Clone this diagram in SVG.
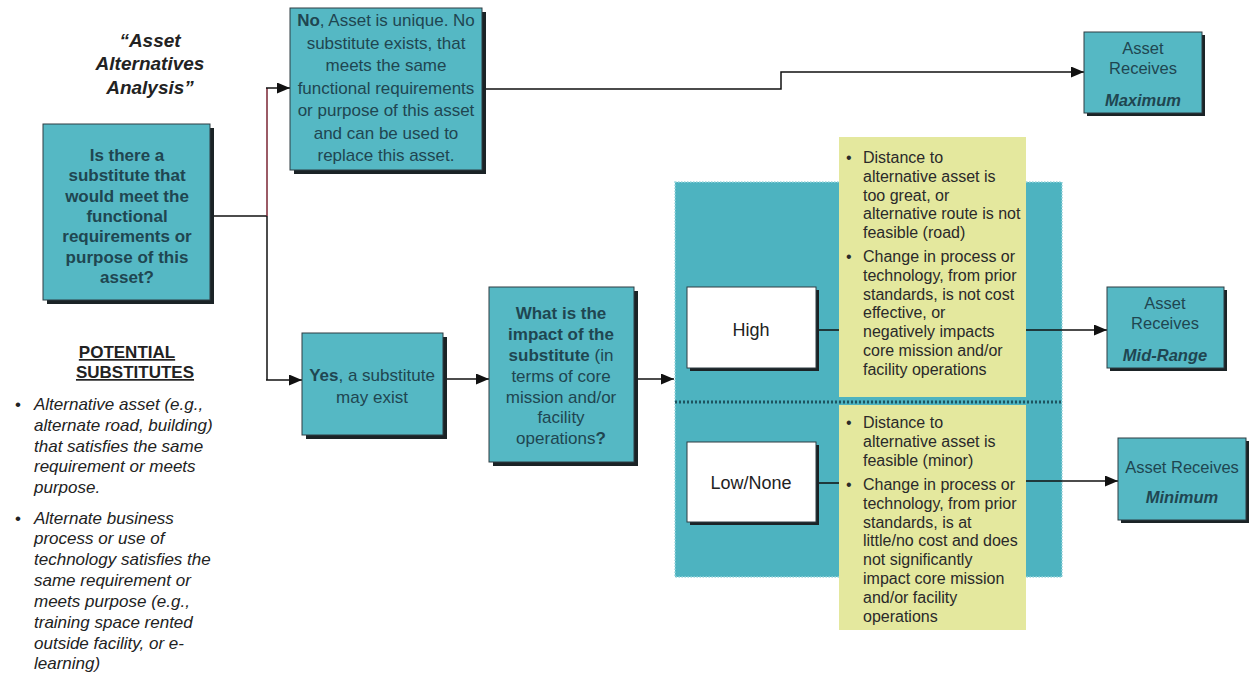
<svg xmlns="http://www.w3.org/2000/svg" width="1252" height="673" viewBox="0 0 1252 673">
<defs>
<marker id="arr" markerUnits="userSpaceOnUse" markerWidth="13" markerHeight="11" refX="13" refY="5.5" orient="auto">
<path d="M0,0 L13,5.5 L0,11 Z" fill="#111"/>
</marker>
<style>
.shadow{fill:#1b2326}
.teal{fill:#55b8c4;stroke:#2e3d42;stroke-width:1}
.white{fill:#ffffff;stroke:#2e3d42;stroke-width:1}
.yellow{fill:#e4e89e}
.tt{font-family:"Liberation Sans",Arial,sans-serif;font-size:17px;fill:#1f4651;text-anchor:middle}
.b{font-weight:bold}
.bi{font-weight:bold;font-style:italic}
.yt{font-family:"Liberation Sans",Arial,sans-serif;font-size:16px;fill:#2a2a2a}
.lt{font-family:"Liberation Sans",Arial,sans-serif;font-size:17px;fill:#222;font-style:italic}
.conn{stroke:#111;stroke-width:1.5;fill:none}
</style>
</defs>
<rect width="1252" height="673" fill="#ffffff"/>

<g id="title">
<text class="tt bi" style="font-size:19px;fill:#222" x="150" y="47">“Asset</text>
<text class="tt bi" style="font-size:19px;fill:#222" x="150" y="70">Alternatives</text>
<text class="tt bi" style="font-size:19px;fill:#222" x="150" y="94">Analysis”</text>
</g>

<g id="panel">
<rect x="675" y="182" width="387" height="395" fill="#4db3c0" stroke="#9ad6dd" stroke-width="1.5" stroke-dasharray="1.5,1.5"/>
<line x1="675" y1="402" x2="1062" y2="402" stroke="#1d5460" stroke-width="3" stroke-dasharray="2,2"/>
</g>

<g id="connectors">
<line class="conn" x1="212" y1="216" x2="267" y2="216"/>
<line x1="267" y1="88" x2="267" y2="216" stroke="#7a2433" stroke-width="1.5"/>
<line class="conn" x1="267" y1="216" x2="267" y2="380"/>
<line class="conn" x1="266" y1="88" x2="290" y2="88" marker-end="url(#arr)"/>
<line class="conn" x1="266" y1="380" x2="302" y2="380" marker-end="url(#arr)"/>
<polyline class="conn" points="484,89 781,89 781,72 1084,72" marker-end="url(#arr)"/>
<line class="conn" x1="447" y1="379" x2="489" y2="379" marker-end="url(#arr)"/>
<line class="conn" x1="637" y1="379" x2="674" y2="379" marker-end="url(#arr)"/>
<line class="conn" x1="816" y1="330" x2="839" y2="330"/>
<line class="conn" x1="1026" y1="330" x2="1107" y2="330" marker-end="url(#arr)"/>
<line class="conn" x1="816" y1="483" x2="839" y2="483"/>
<line class="conn" x1="1026" y1="481" x2="1118" y2="481" marker-end="url(#arr)"/>
</g>

<g id="question">
<rect class="shadow" x="47" y="128" width="167" height="176"/>
<rect class="teal" x="43" y="124" width="167" height="176"/>
<text class="tt b" x="127" y="161">Is there a</text>
<text class="tt b" x="127" y="181.3">substitute that</text>
<text class="tt b" x="127" y="201.7">would meet the</text>
<text class="tt b" x="127" y="222">functional</text>
<text class="tt b" x="127" y="242.3">requirements or</text>
<text class="tt b" x="127" y="262.7">purpose of this</text>
<text class="tt b" x="127" y="283">asset?</text>
</g>

<g id="no-box">
<rect class="shadow" x="294" y="12" width="192" height="162"/>
<rect class="teal" x="290" y="8" width="192" height="162"/>
<text class="tt" x="386" y="26"><tspan class="b">No</tspan>, Asset is unique. No</text>
<text class="tt" x="386" y="48.5">substitute exists, that</text>
<text class="tt" x="386" y="71">meets the same</text>
<text class="tt" x="386" y="93.5">functional requirements</text>
<text class="tt" x="386" y="116">or purpose of this asset</text>
<text class="tt" x="386" y="138.5">and can be used to</text>
<text class="tt" x="386" y="161">replace this asset.</text>
</g>

<g id="yes-box">
<rect class="shadow" x="306" y="337" width="141" height="102"/>
<rect class="teal" x="302" y="333" width="141" height="102"/>
<text class="tt" x="372" y="381"><tspan class="b">Yes</tspan>, a substitute</text>
<text class="tt" x="372" y="403">may exist</text>
</g>

<g id="impact-box">
<rect class="shadow" x="493" y="291" width="145" height="175"/>
<rect class="teal" x="489" y="287" width="145" height="175"/>
<text class="tt b" x="561" y="319">What is the</text>
<text class="tt b" x="561" y="340">impact of the</text>
<text class="tt" x="561" y="361"><tspan class="b">substitute</tspan> (in</text>
<text class="tt" x="561" y="382">terms of core</text>
<text class="tt" x="561" y="403">mission and/or</text>
<text class="tt" x="561" y="423">facility</text>
<text class="tt" x="561" y="444">operations<tspan class="b">?</tspan></text>
</g>

<g id="high-box">
<rect class="shadow" x="690" y="290" width="129" height="81"/>
<rect class="white" x="687" y="287" width="129" height="81"/>
<text class="tt" style="font-size:18px;fill:#222" x="751" y="336">High</text>
</g>

<g id="low-box">
<rect class="shadow" x="690" y="445" width="129" height="80"/>
<rect class="white" x="687" y="442" width="129" height="80"/>
<text class="tt" style="font-size:18px;fill:#222" x="751" y="489">Low/None</text>
</g>

<g id="high-criteria">
<rect class="yellow" x="839" y="137" width="187" height="260"/>
<text class="yt" x="846" y="163">•</text>
<text class="yt" x="863" y="163">Distance to</text>
<text class="yt" x="863" y="181.8">alternative asset is</text>
<text class="yt" x="863" y="200.6">too great, or</text>
<text class="yt" x="863" y="219.4">alternative route is not</text>
<text class="yt" x="863" y="238.2">feasible (road)</text>
<text class="yt" x="846" y="262">•</text>
<text class="yt" x="863" y="262">Change in process or</text>
<text class="yt" x="863" y="280.8">technology, from prior</text>
<text class="yt" x="863" y="299.6">standards, is not cost</text>
<text class="yt" x="863" y="318.4">effective, or</text>
<text class="yt" x="863" y="337.2">negatively impacts</text>
<text class="yt" x="863" y="356">core mission and/or</text>
<text class="yt" x="863" y="374.8">facility operations</text>
</g>

<g id="low-criteria">
<rect class="yellow" x="839" y="405" width="187" height="225"/>
<text class="yt" x="846" y="428">•</text>
<text class="yt" x="863" y="428">Distance to</text>
<text class="yt" x="863" y="446.8">alternative asset is</text>
<text class="yt" x="863" y="465.6">feasible (minor)</text>
<text class="yt" x="846" y="490">•</text>
<text class="yt" x="863" y="490">Change in process or</text>
<text class="yt" x="863" y="508.8">technology, from prior</text>
<text class="yt" x="863" y="527.6">standards, is at</text>
<text class="yt" x="863" y="546.4">little/no cost and does</text>
<text class="yt" x="863" y="565.2">not significantly</text>
<text class="yt" x="863" y="584">impact core mission</text>
<text class="yt" x="863" y="602.8">and/or facility</text>
<text class="yt" x="863" y="621.6">operations</text>
</g>

<g id="maximum-box">
<rect class="shadow" x="1087" y="35" width="118" height="81"/>
<rect class="teal" x="1084" y="32" width="118" height="81"/>
<text class="tt" style="font-size:16.5px" x="1143" y="54">Asset</text>
<text class="tt" style="font-size:16.5px" x="1143" y="74">Receives</text>
<text class="tt bi" style="font-size:16.5px" x="1143" y="106">Maximum</text>
</g>

<g id="midrange-box">
<rect class="shadow" x="1110" y="290" width="117" height="81"/>
<rect class="teal" x="1107" y="287" width="117" height="81"/>
<text class="tt" style="font-size:16.5px" x="1165" y="309">Asset</text>
<text class="tt" style="font-size:16.5px" x="1165" y="329">Receives</text>
<text class="tt bi" style="font-size:16.5px" x="1165" y="361">Mid-Range</text>
</g>

<g id="minimum-box">
<rect class="shadow" x="1121" y="441" width="128" height="82"/>
<rect class="teal" x="1118" y="438" width="128" height="82"/>
<text class="tt" style="font-size:16.5px" x="1182" y="473">Asset Receives</text>
<text class="tt bi" style="font-size:16.5px" x="1182" y="503">Minimum</text>
</g>

<g id="potential-substitutes">
<text class="tt b" style="fill:#222;text-decoration:underline" x="127" y="358">POTENTIAL</text>
<text class="tt b" style="fill:#222;text-decoration:underline" x="135" y="378">SUBSTITUTES</text>
<text class="lt" style="font-style:normal" x="15" y="410">•</text>
<text class="lt" x="34" y="410">Alternative asset (e.g.,</text>
<text class="lt" x="34" y="431">alternate road, building)</text>
<text class="lt" x="34" y="452">that satisfies the same</text>
<text class="lt" x="34" y="472">requirement or meets</text>
<text class="lt" x="34" y="493">purpose.</text>
<text class="lt" style="font-style:normal" x="15" y="524">•</text>
<text class="lt" x="34" y="524">Alternate business</text>
<text class="lt" x="34" y="544">process or use of</text>
<text class="lt" x="34" y="565">technology satisfies the</text>
<text class="lt" x="34" y="586">same requirement or</text>
<text class="lt" x="34" y="607">meets purpose (e.g.,</text>
<text class="lt" x="34" y="628">training space rented</text>
<text class="lt" x="34" y="649">outside facility, or e-</text>
<text class="lt" x="34" y="669">learning)</text>
</g>
</svg>
